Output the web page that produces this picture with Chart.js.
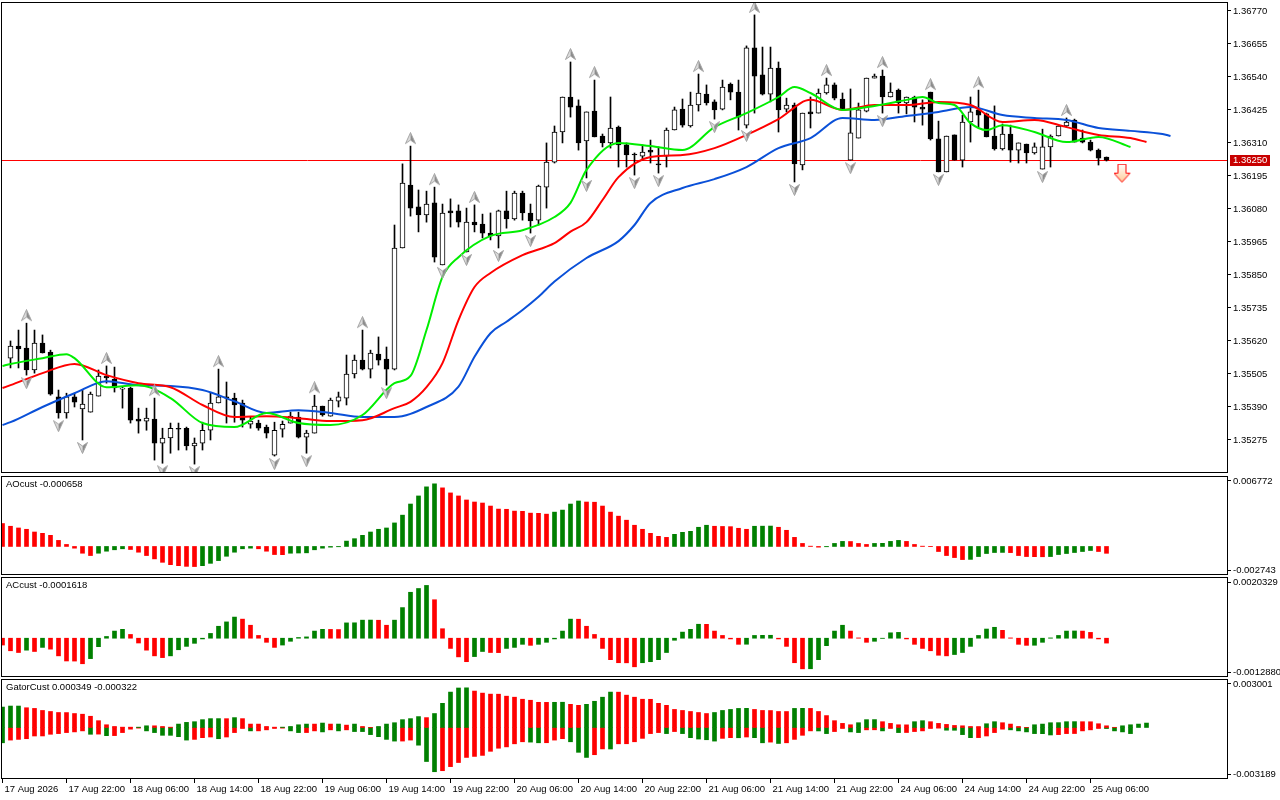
<!DOCTYPE html>
<html>
<head>
<meta charset="utf-8">
<title>H1 chart with Alligator, AO, AC, Gator</title>
<script src="https://cdn.jsdelivr.net/npm/chart.js@4.4.1/dist/chart.umd.min.js"></script>
<style>
  html, body { margin: 0; padding: 0; background: #fff; }
  #wrap { position: relative; width: 1280px; height: 800px; overflow: hidden; }
  #wrap canvas { position: absolute; left: 0; }
</style>
</head>
<body>
<div id="wrap">
  <canvas id="main" width="1280" height="475" style="top:0"></canvas>
  <canvas id="ao" width="1280" height="101" style="top:475px"></canvas>
  <canvas id="ac" width="1280" height="102" style="top:576px"></canvas>
  <canvas id="gator" width="1280" height="122" style="top:678px"></canvas>
</div>
<script>
// ---------- data (bar 0 = 17 Aug 15:00, one bar per hour) ----------
const opens = [1.35560,1.35602,1.35595,1.35519,1.35613,1.35581,1.35425,1.35369,1.35425,1.35383,
  1.35372,1.35428,1.35498,1.35487,1.35452,1.35456,1.35348,1.35341,1.35348,1.35264,
  1.35282,1.35316,1.35316,1.35254,1.35264,1.35309,1.35404,1.35425,1.35421,1.35404,
  1.35330,1.35334,1.35320,1.35222,1.35313,1.35334,1.35355,1.35285,1.35299,1.35393,
  1.35358,1.35410,1.35421,1.35505,1.35553,1.35522,1.35574,1.35557,1.35522,1.35944,
  1.36163,1.36087,1.36059,1.36101,1.35885,1.36073,1.36073,1.35930,1.36034,1.36027,
  1.35996,1.35986,1.36073,1.36045,1.36135,1.36066,1.36041,1.36156,1.36243,1.36348,
  1.36470,1.36439,1.36317,1.36421,1.36334,1.36310,1.36365,1.36303,1.36271,1.36264,
  1.36285,1.36237,1.36264,1.36355,1.36428,1.36369,1.36442,1.36480,1.36453,1.36428,
  1.36515,1.36487,1.36372,1.36641,1.36547,1.36480,1.36571,1.36428,1.36442,1.36233,
  1.36418,1.36414,1.36484,1.36512,1.36463,1.36250,1.36327,1.36421,1.36536,1.36543,
  1.36470,1.36494,1.36449,1.36470,1.36435,1.36487,1.36324,1.36209,1.36338,1.36250,
  1.36383,1.36425,1.36411,1.36334,1.36289,1.36341,1.36285,1.36306,1.36275,1.36219,
  1.36296,1.36334,1.36369,1.36390,1.36327,1.36313,1.36285,1.36261];
const highs = [1.35620,1.35658,1.35682,1.35658,1.35641,1.35588,1.35449,1.35438,1.35438,1.35449,
  1.35442,1.35519,1.35533,1.35529,1.35459,1.35459,1.35386,1.35386,1.35421,1.35316,
  1.35334,1.35334,1.35320,1.35282,1.35337,1.35438,1.35522,1.35477,1.35438,1.35414,
  1.35355,1.35344,1.35327,1.35337,1.35341,1.35372,1.35372,1.35309,1.35431,1.35393,
  1.35421,1.35442,1.35571,1.35571,1.35658,1.35588,1.35634,1.35599,1.36024,1.36237,
  1.36299,1.36146,1.36142,1.36156,1.36097,1.36115,1.36094,1.36083,1.36094,1.36062,
  1.36066,1.36076,1.36142,1.36142,1.36142,1.36097,1.36163,1.36310,1.36369,1.36470,
  1.36592,1.36460,1.36418,1.36529,1.36341,1.36470,1.36369,1.36310,1.36275,1.36303,
  1.36320,1.36296,1.36362,1.36435,1.36463,1.36487,1.36550,1.36512,1.36460,1.36529,
  1.36519,1.36529,1.36648,1.36756,1.36644,1.36644,1.36592,1.36466,1.36449,1.36414,
  1.36470,1.36498,1.36536,1.36519,1.36484,1.36498,1.36449,1.36536,1.36550,1.36564,
  1.36519,1.36498,1.36470,1.36473,1.36460,1.36487,1.36386,1.36334,1.36338,1.36407,
  1.36470,1.36494,1.36414,1.36439,1.36376,1.36372,1.36310,1.36306,1.36310,1.36358,
  1.36338,1.36369,1.36397,1.36393,1.36355,1.36320,1.36289,1.36261];
const lows = [1.35526,1.35526,1.35501,1.35508,1.35578,1.35431,1.35351,1.35351,1.35390,1.35275,
  1.35372,1.35428,1.35473,1.35442,1.35386,1.35334,1.35299,1.35309,1.35205,1.35194,
  1.35229,1.35240,1.35240,1.35191,1.35240,1.35275,1.35404,1.35334,1.35337,1.35320,
  1.35316,1.35309,1.35282,1.35219,1.35285,1.35334,1.35282,1.35229,1.35299,1.35358,
  1.35358,1.35390,1.35397,1.35491,1.35519,1.35491,1.35536,1.35466,1.35519,1.35944,
  1.36055,1.36000,1.36034,1.35895,1.35885,1.36017,1.36017,1.35930,1.36000,1.35979,
  1.35972,1.35944,1.36013,1.36041,1.36041,1.35996,1.36024,1.36083,1.36240,1.36310,
  1.36400,1.36285,1.36188,1.36331,1.36296,1.36292,1.36226,1.36226,1.36198,1.36250,
  1.36240,1.36205,1.36226,1.36355,1.36365,1.36365,1.36421,1.36442,1.36393,1.36425,
  1.36460,1.36355,1.36362,1.36414,1.36477,1.36453,1.36348,1.36418,1.36174,1.36216,
  1.36362,1.36414,1.36480,1.36460,1.36425,1.36250,1.36327,1.36418,1.36536,1.36414,
  1.36470,1.36414,1.36411,1.36383,1.36372,1.36320,1.36209,1.36209,1.36250,1.36226,
  1.36313,1.36365,1.36331,1.36285,1.36285,1.36243,1.36240,1.36240,1.36271,1.36219,
  1.36226,1.36334,1.36365,1.36313,1.36310,1.36282,1.36233,1.36247];
const closes = [1.35602,1.35592,1.35519,1.35613,1.35578,1.35435,1.35369,1.35425,1.35407,1.35400,
  1.35435,1.35498,1.35491,1.35456,1.35456,1.35344,1.35341,1.35351,1.35264,1.35282,
  1.35316,1.35313,1.35254,1.35264,1.35309,1.35404,1.35425,1.35421,1.35397,1.35344,
  1.35341,1.35316,1.35299,1.35309,1.35330,1.35358,1.35285,1.35299,1.35393,1.35362,
  1.35414,1.35425,1.35505,1.35553,1.35522,1.35578,1.35553,1.35522,1.35944,1.36170,
  1.36083,1.36059,1.36097,1.35912,1.36066,1.36066,1.36034,1.36034,1.36024,1.35996,
  1.35986,1.36073,1.36045,1.36135,1.36066,1.36038,1.36160,1.36243,1.36348,1.36470,
  1.36435,1.36310,1.36418,1.36331,1.36310,1.36362,1.36303,1.36268,1.36268,1.36278,
  1.36278,1.36233,1.36355,1.36425,1.36372,1.36442,1.36484,1.36449,1.36425,1.36505,
  1.36487,1.36400,1.36641,1.36543,1.36480,1.36571,1.36425,1.36442,1.36237,1.36414,
  1.36411,1.36484,1.36512,1.36466,1.36428,1.36345,1.36425,1.36536,1.36543,1.36470,
  1.36487,1.36449,1.36470,1.36435,1.36428,1.36324,1.36209,1.36334,1.36250,1.36383,
  1.36418,1.36407,1.36331,1.36289,1.36341,1.36285,1.36310,1.36275,1.36296,1.36296,
  1.36334,1.36369,1.36383,1.36313,1.36313,1.36285,1.36257,1.36250];

// fractal bars (up = above the high, down = below the low)
const upFractals = [2,12,18,26,38,44,50,53,58,70,73,86,93,102,109,115,121,132];
const downFractals = [2,6,9,19,23,33,37,47,54,57,61,65,72,78,81,88,92,98,105,109,116,129];

// alligator lines (bar index, price)
const jawBars = [-1,0,4,8,12,16,20,24,28,32,36,40,44,48,52,56,58,60,62,64,66,68,72,76,78,80,84,88,92,96,100,104,108,112,116,120,124,128,132,136,140,144,145];
const jawVals = [1.35327,1.35337,1.35390,1.35438,1.35480,1.35466,1.35463,1.35449,1.35410,1.35369,
  1.35379,1.35369,1.35355,1.35355,1.35390,1.35461,1.35565,1.35647,1.35687,1.35728,
  1.35774,1.35827,1.35909,1.35968,1.36024,1.36101,1.36153,1.36184,1.36226,1.36292,
  1.36327,1.36397,1.36390,1.36404,1.36418,1.36435,1.36407,1.36397,1.36390,1.36362,
  1.36352,1.36341,1.36334];
const teethBars = [-1,0,4,8,12,16,20,24,28,32,36,40,44,48,50,52,54,56,58,60,64,68,70,72,74,76,80,84,88,92,96,100,104,108,112,116,120,124,128,132,136,140,142];
const teethVals = [1.35456,1.35466,1.35508,1.35540,1.35501,1.35473,1.35459,1.35397,1.35355,1.35358,
  1.35351,1.35341,1.35344,1.35386,1.35408,1.35459,1.35543,1.35693,1.35808,1.35857,
  1.35919,1.35961,1.36001,1.36034,1.36111,1.36191,1.36261,1.36268,1.36292,1.36338,
  1.36393,1.36460,1.36425,1.36442,1.36442,1.36453,1.36442,1.36383,1.36390,1.36365,
  1.36338,1.36327,1.36313];
const lipsBars = [-1,0,4,7,8,12,16,20,24,28,32,36,40,44,48,50,52,54,56,60,64,68,70,72,76,80,84,88,92,96,98,100,104,108,112,114,116,118,120,122,124,128,132,136,140];
const lipsVals = [1.35533,1.35540,1.35560,1.35574,1.35560,1.35459,1.35466,1.35421,1.35334,1.35320,
  1.35369,1.35334,1.35327,1.35362,1.35473,1.35498,1.35658,1.35843,1.35912,1.35986,
  1.36006,1.36052,1.36101,1.36216,1.36310,1.36299,1.36285,1.36365,1.36414,1.36470,
  1.36505,1.36484,1.36425,1.36439,1.36460,1.36470,1.36449,1.36442,1.36379,1.36355,
  1.36372,1.36348,1.36313,1.36331,1.36296];

const sellBar = 139;
const sellPrice = 1.36203;

const priceTicks = [1.36770,1.36655,1.36540,1.36425,1.36310,1.36195,1.36080,1.35965,1.35850,1.35735,1.35620,1.35505,1.35390,1.35275];

// oscillators, first value is bar -1 (partly hidden at the left edge)
const aoVals = [0.002204,0.001942,0.001777,0.001651,0.001389,0.001262,0.001068,0.000583,0.000194,-0.000165,
  -0.000651,-0.000874,-0.000651,-0.000456,-0.000320,-0.000223,-0.000291,-0.000553,-0.000874,-0.001194,
  -0.001524,-0.001748,-0.001845,-0.001913,-0.001932,-0.001845,-0.001622,-0.001359,-0.000942,-0.000553,
  -0.000223,-0.000165,-0.000223,-0.000456,-0.000777,-0.000787,-0.000651,-0.000631,-0.000612,-0.000320,
  -0.000165,-0.000068,-0.000029,0.000515,0.000748,0.001068,0.001389,0.001651,0.001777,0.002262,
  0.003010,0.004078,0.004855,0.005729,0.006020,0.005632,0.005146,0.004855,0.004467,0.004272,
  0.004175,0.003884,0.003593,0.003573,0.003399,0.003379,0.003204,0.003185,0.003107,0.003301,
  0.003496,0.004078,0.004370,0.004272,0.004253,0.003884,0.003301,0.002913,0.002525,0.002039,
  0.001651,0.001262,0.000971,0.000874,0.001165,0.001359,0.001457,0.001845,0.002039,0.001942,
  0.001923,0.001903,0.001748,0.001651,0.001942,0.001952,0.001961,0.001845,0.001554,0.000874,
  0.000291,0.000029,-0.000068,-0.000029,0.000291,0.000486,0.000476,0.000291,0.000194,0.000291,
  0.000301,0.000486,0.000583,0.000486,0.000194,0.000029,-0.000019,-0.000486,-0.000874,-0.001068,
  -0.001262,-0.001243,-0.000971,-0.000680,-0.000583,-0.000573,-0.000592,-0.000874,-0.000971,-0.000981,
  -0.000990,-0.000971,-0.000777,-0.000680,-0.000583,-0.000486,-0.000388,-0.000486,-0.000658];
const acVals = [-0.000227,-0.000417,-0.000475,-0.000397,-0.000441,-0.000305,-0.000363,-0.000586,-0.000756,-0.000759,
  -0.000848,-0.000678,-0.000281,0.000058,0.000237,0.000295,0.000125,-0.000159,-0.000397,-0.000586,
  -0.000644,-0.000586,-0.000383,-0.000271,-0.000170,-0.000024,0.000159,0.000397,0.000542,0.000702,
  0.000634,0.000431,0.000092,-0.000136,-0.000305,-0.000227,-0.000102,0.000024,0.000044,0.000237,
  0.000295,0.000292,0.000288,0.000509,0.000512,0.000600,0.000603,0.000597,0.000431,0.000600,
  0.001017,0.001526,0.001651,0.001753,0.001278,0.000315,-0.000339,-0.000620,-0.000780,-0.000610,
  -0.000441,-0.000475,-0.000478,-0.000339,-0.000305,-0.000203,-0.000237,-0.000203,-0.000136,-0.000024,
  0.000237,0.000634,0.000631,0.000397,0.000125,-0.000339,-0.000712,-0.000814,-0.000817,-0.000949,
  -0.000814,-0.000780,-0.000712,-0.000475,-0.000068,0.000203,0.000295,0.000464,0.000461,0.000237,
  0.000092,-0.000024,-0.000203,-0.000200,0.000092,0.000095,0.000098,-0.000024,-0.000271,-0.000814,
  -0.001017,-0.001014,-0.000712,-0.000247,0.000237,0.000431,0.000237,0.000010,-0.000136,-0.000102,
  -0.000007,0.000180,0.000193,-0.000024,-0.000203,-0.000339,-0.000417,-0.000566,-0.000586,-0.000542,
  -0.000475,-0.000271,0.000092,0.000305,0.000363,0.000261,0.000010,-0.000203,-0.000237,-0.000234,
  -0.000136,0.000010,0.000092,0.000237,0.000241,0.000237,0.000193,-0.000024,-0.000162];
const gatorUp = [0.001264,0.001327,0.001327,0.001222,0.001180,0.001054,0.000990,0.000927,0.000923,0.000864,
  0.000822,0.000695,0.000421,0.000169,0.000063,0.000021,0.000020,0.000021,0.000105,0.000104,
  0.000063,0.000021,0.000211,0.000316,0.000358,0.000485,0.000548,0.000549,0.000546,0.000611,
  0.000548,0.000211,0.000210,0.000063,0.000021,0.000022,0.000063,0.000169,0.000211,0.000210,
  0.000274,0.000211,0.000212,0.000147,0.000211,0.000063,0.000010,0.000063,0.000211,0.000295,
  0.000485,0.000548,0.000674,0.000611,0.000864,0.001496,0.002191,0.002444,0.002455,0.002254,
  0.002128,0.002065,0.002061,0.001938,0.001875,0.001749,0.001686,0.001559,0.001555,0.001559,
  0.001563,0.001433,0.001370,0.001433,0.001622,0.001875,0.002191,0.002187,0.002002,0.001875,
  0.001749,0.001745,0.001496,0.001370,0.001117,0.001054,0.000990,0.000927,0.000864,0.000927,
  0.001054,0.001117,0.001180,0.001184,0.001117,0.001054,0.001049,0.000990,0.000988,0.001180,
  0.001184,0.001180,0.000990,0.000737,0.000421,0.000253,0.000169,0.000295,0.000485,0.000489,
  0.000358,0.000253,0.000169,0.000164,0.000358,0.000421,0.000358,0.000253,0.000190,0.000126,
  0.000105,0.000063,0.000059,0.000232,0.000358,0.000295,0.000211,0.000063,0.000011,0.000169,
  0.000211,0.000295,0.000299,0.000358,0.000362,0.000358,0.000354,0.000232,0.000105,0.000012,
  0.000105,0.000169,0.000211,0.000274];
const gatorDown = [-0.000948,-0.000780,-0.000737,-0.000695,-0.000527,-0.000525,-0.000421,-0.000379,-0.000316,-0.000274,
  -0.000211,-0.000421,-0.000411,-0.000506,-0.000503,-0.000316,-0.000105,-0.000042,-0.000211,-0.000316,
  -0.000485,-0.000486,-0.000569,-0.000780,-0.000737,-0.000632,-0.000590,-0.000695,-0.000590,-0.000316,
  -0.000063,-0.000211,-0.000210,-0.000147,-0.000063,-0.000042,-0.000211,-0.000316,-0.000315,-0.000211,
  -0.000274,-0.000147,-0.000211,-0.000147,-0.000253,-0.000254,-0.000442,-0.000569,-0.000737,-0.000843,
  -0.000841,-0.000780,-0.001096,-0.002107,-0.002739,-0.002676,-0.002423,-0.002170,-0.001854,-0.001791,
  -0.001728,-0.001475,-0.001285,-0.001201,-0.001011,-0.000885,-0.000906,-0.000948,-0.000944,-0.000780,
  -0.000695,-0.000885,-0.001538,-0.001854,-0.001686,-0.001327,-0.001332,-0.001011,-0.001007,-0.000885,
  -0.000674,-0.000379,-0.000316,-0.000379,-0.000253,-0.000379,-0.000632,-0.000716,-0.000759,-0.000843,
  -0.000674,-0.000632,-0.000636,-0.000590,-0.000632,-0.000948,-0.000906,-0.000990,-0.000948,-0.000737,
  -0.000485,-0.000211,-0.000215,-0.000379,-0.000253,-0.000063,-0.000274,-0.000316,-0.000147,-0.000143,
  -0.000211,-0.000063,-0.000316,-0.000312,-0.000253,-0.000211,-0.000063,-0.000042,-0.000169,-0.000173,
  -0.000442,-0.000632,-0.000628,-0.000527,-0.000316,-0.000105,-0.000147,-0.000211,-0.000274,-0.000379,
  -0.000383,-0.000464,-0.000442,-0.000379,-0.000375,-0.000211,-0.000147,-0.000063,-0.000067,-0.000211,
  -0.000274,-0.000379];

const aoRange = [-0.002743, 0.006772];
const acRange = [-0.0012880, 0.0020329];
const gatorRange = [-0.003189, 0.003001];
const paneTitles = ['AOcust -0.000658', 'ACcust -0.0001618', 'GatorCust 0.000349 -0.000322'];

const timeBars = [-1,7,15,23,31,39,47,55,63,71,79,87,95,103,111,119,127,135];
const timeLabels = ['17 Aug 2026','17 Aug 22:00','18 Aug 06:00','18 Aug 14:00','18 Aug 22:00','19 Aug 06:00',
  '19 Aug 14:00','19 Aug 22:00','20 Aug 06:00','20 Aug 14:00','20 Aug 22:00','21 Aug 06:00',
  '21 Aug 14:00','21 Aug 22:00','24 Aug 06:00','24 Aug 14:00','24 Aug 22:00','25 Aug 06:00'];

// ---------- look ----------
const AXIS_W = 53;
const X_MIN = -1.1875, X_MAX = 152.0625;
const FONT = '"Liberation Sans", Arial, sans-serif';
const GREEN = '#008000', RED = '#ff0000';

Chart.defaults.font.family = FONT;
Chart.defaults.font.size = 9.5;
Chart.defaults.color = '#000';
Chart.defaults.animation = false;
Chart.defaults.events = [];
Chart.defaults.plugins.legend.display = false;
Chart.defaults.plugins.tooltip.enabled = false;

// keep the plot area tight to the canvas: no extra room for half labels
function fixY(s) { s.width = AXIS_W; s.paddingTop = 0; s.paddingBottom = 0; }

const framePlugin = {
  id: 'frame',
  afterDraw(chart) {
    const a = chart.chartArea, ctx = chart.ctx;
    ctx.save();
    ctx.strokeStyle = '#000';
    ctx.lineWidth = 1;
    ctx.strokeRect(a.left + 0.5, a.top + 0.5, a.right - a.left, a.bottom - a.top - 1);
    ctx.restore();
  }
};

function titlePlugin(text) {
  return {
    id: 'paneTitle',
    afterDraw(chart) {
      const a = chart.chartArea, ctx = chart.ctx;
      ctx.save();
      ctx.font = '9.5px ' + FONT;
      ctx.fillStyle = '#000';
      ctx.textBaseline = 'top';
      ctx.fillText(text, a.left + 5, a.top + 4);
      ctx.restore();
    }
  };
}

const lastPricePlugin = {
  id: 'lastPrice',
  beforeDatasetsDraw(chart) {
    const a = chart.chartArea, ctx = chart.ctx;
    const y = Math.round(chart.scales.y.getPixelForValue(closes[closes.length - 1])) + 0.5;
    ctx.save();
    ctx.strokeStyle = '#ff0000';
    ctx.lineWidth = 1;
    ctx.beginPath(); ctx.moveTo(a.left, y); ctx.lineTo(a.right, y); ctx.stroke();
    ctx.restore();
  },
  afterDraw(chart) {
    const a = chart.chartArea, ctx = chart.ctx;
    const price = closes[closes.length - 1];
    const y = Math.round(chart.scales.y.getPixelForValue(price));
    ctx.save();
    ctx.fillStyle = '#c80000';
    ctx.fillRect(a.right + 3, y - 5, 40, 11);
    ctx.fillStyle = '#fff';
    ctx.font = '9.5px ' + FONT;
    ctx.textBaseline = 'middle';
    ctx.fillText(price.toFixed(5), a.right + 6, y + 0.5);
    ctx.restore();
  }
};

function fractalImg(up) {
  const c = document.createElement('canvas');
  c.width = 11; c.height = 28;
  const g = c.getContext('2d');
  if (!up) { g.translate(0, c.height); g.scale(1, -1); }
  g.beginPath(); g.moveTo(5.5, 0.5); g.lineTo(0.5, 11.5); g.lineTo(5.5, 8); g.closePath();
  g.fillStyle = '#dcdcdc'; g.fill();
  g.beginPath(); g.moveTo(5.5, 0.5); g.lineTo(10.5, 11.5); g.lineTo(5.5, 8); g.closePath();
  g.fillStyle = '#8c8c8c'; g.fill();
  g.beginPath(); g.moveTo(5.5, 0.5); g.lineTo(10.5, 11.5); g.lineTo(5.5, 8); g.lineTo(0.5, 11.5); g.closePath();
  g.strokeStyle = '#a4a4a4'; g.lineWidth = 1; g.stroke();
  return c;
}

function sellArrowImg() {
  const c = document.createElement('canvas');
  c.width = 18; c.height = 20;
  const g = c.getContext('2d');
  g.beginPath();
  g.moveTo(4.5, 0.5); g.lineTo(12.5, 0.5); g.lineTo(12.5, 9.5); g.lineTo(16.5, 9.5);
  g.lineTo(8.5, 18.5); g.lineTo(0.5, 9.5); g.lineTo(4.5, 9.5); g.closePath();
  const gr = g.createLinearGradient(0, 0, 0, 20);
  gr.addColorStop(0, '#ffffff'); gr.addColorStop(1, '#ffc890');
  g.fillStyle = gr; g.fill();
  g.strokeStyle = '#ff0000'; g.lineWidth = 1; g.stroke();
  return c;
}

function hiddenX() {
  return { type: 'linear', min: X_MIN, max: X_MAX, offset: false, display: false, grid: { offset: false } };
}

function alligator(bars, vals, color, order) {
  return {
    type: 'line', data: bars.map((b, i) => ({ x: b, y: vals[i] })),
    borderColor: color, borderWidth: 2, pointRadius: 0, fill: false,
    cubicInterpolationMode: 'monotone', order: order
  };
}

function markers(points, img, order) {
  return { type: 'line', data: points, showLine: false, pointStyle: img, pointRadius: 3, order: order };
}

// ---------- price panel ----------
new Chart(document.getElementById('main'), {
  type: 'bar',
  data: {
    datasets: [
      { data: highs.map((h, i) => ({ x: i, y: [lows[i], h] })), backgroundColor: '#000',
        barThickness: 1, grouped: false, order: 10 },
      { data: opens.map((o, i) => ({ x: i, y: [o, closes[i]] })),
        backgroundColor: opens.map((o, i) => closes[i] >= o ? '#fff' : '#000'),
        borderColor: '#000', borderWidth: 1, borderSkipped: false,
        barThickness: 5, grouped: false, order: 9 },
      alligator(jawBars, jawVals, '#0a50d8', 6),
      alligator(teethBars, teethVals, '#ff0000', 5),
      alligator(lipsBars, lipsVals, '#00ee00', 4),
      markers(upFractals.map(i => ({ x: i, y: highs[i] })), fractalImg(true), 2),
      markers(downFractals.map(i => ({ x: i, y: lows[i] })), fractalImg(false), 2),
      markers([{ x: sellBar, y: sellPrice }], sellArrowImg(), 1)
    ]
  },
  options: {
    responsive: false, devicePixelRatio: 1,
    layout: { autoPadding: false, padding: { top: 2, bottom: 2, left: 1, right: 0 } },
    scales: {
      x: hiddenX(),
      y: {
        position: 'right', min: 1.35160, max: 1.36801,
        afterBuildTicks: s => { s.ticks = priceTicks.map(v => ({ value: v })); },
        afterFit: fixY,
        grid: { drawOnChartArea: false, tickLength: 4, color: '#000' },
        border: { display: false },
        ticks: { padding: 2, color: '#000', autoSkip: false, callback: v => v.toFixed(5) }
      }
    }
  },
  plugins: [lastPricePlugin, framePlugin]
});

// ---------- oscillator panels ----------
function risingColors(vals) {
  return vals.map((v, i) => (i > 0 && v > vals[i - 1]) ? GREEN : RED);
}
function gatorColors(vals) {
  return vals.map((v, i) => (i === 0 || Math.abs(v) >= Math.abs(vals[i - 1])) ? GREEN : RED);
}
function histo(vals, colors) {
  return { type: 'bar', data: vals.map((v, i) => ({ x: i - 1, y: v })), backgroundColor: colors,
           barThickness: 4, grouped: false, borderWidth: 0 };
}

function paneY(range, digits) {
  const lo = range[0], hi = range[1];
  const inset = (hi - lo) * 0.05;
  return {
    position: 'right', min: lo, max: hi,
    afterBuildTicks: s => { s.ticks = [{ value: lo + inset }, { value: hi - inset }]; },
    afterFit: fixY,
    grid: { drawOnChartArea: false, tickLength: 4, color: '#000' },
    border: { display: false },
    ticks: { padding: 2, color: '#000', autoSkip: false,
             callback: (v, i) => (i === 0 ? lo : hi).toFixed(digits) }
  };
}

function pane(id, datasets, yScale, title, xScale, padding) {
  return new Chart(document.getElementById(id), {
    type: 'bar',
    data: { datasets: datasets },
    options: {
      responsive: false, devicePixelRatio: 1,
      layout: { autoPadding: false, padding: padding },
      scales: { x: xScale, y: yScale }
    },
    plugins: [titlePlugin(title), framePlugin]
  });
}

pane('ao', [histo(aoVals, risingColors(aoVals))], paneY(aoRange, 6), paneTitles[0],
     hiddenX(), { top: 1, bottom: 1, left: 1, right: 0 });

pane('ac', [histo(acVals, risingColors(acVals))], paneY(acRange, 7), paneTitles[1],
     hiddenX(), { top: 1, bottom: 1, left: 1, right: 0 });

const timeAxis = {
  type: 'linear', min: X_MIN, max: X_MAX, offset: false, position: 'bottom',
  afterBuildTicks: s => { s.ticks = timeBars.map(v => ({ value: v })); },
  afterFit: s => { s.height = 21; s.paddingLeft = 0; s.paddingRight = 0; },
  grid: { drawOnChartArea: false, tickLength: 4, color: '#000', offset: false },
  border: { display: false },
  ticks: { autoSkip: false, maxRotation: 0, align: 'start', labelOffset: 2, padding: 1,
           color: '#000', callback: (v, i) => timeLabels[i] }
};

pane('gator', [histo(gatorUp, gatorColors(gatorUp)), histo(gatorDown, gatorColors(gatorDown))],
     paneY(gatorRange, 6), paneTitles[2], timeAxis, { top: 1, bottom: 0, left: 1, right: 0 });
</script>
</body>
</html>
